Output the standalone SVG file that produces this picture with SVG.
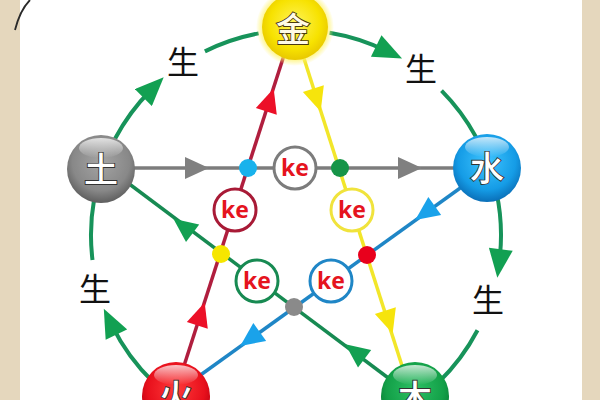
<svg xmlns="http://www.w3.org/2000/svg" xmlns:xlink="http://www.w3.org/1999/xlink" width="600" height="400" viewBox="0 0 600 400">
<style>
.arc{fill:none;stroke:#17935a;stroke-width:4}
.ln{fill:none;stroke-width:3.5}
.ke{fill:#fff;stroke-width:3}
.ket{font-family:"Open Sans","Liberation Sans",sans-serif;font-weight:700;font-size:23px;fill:#e5141e;text-anchor:middle}
.sheng{font-family:"Noto Sans CJK SC","Noto Sans CJK JP",sans-serif;font-size:32px;fill:#111;text-anchor:middle}
.glyph{font-family:"Noto Sans CJK SC","Noto Sans CJK JP",sans-serif;font-weight:500;font-size:34px;fill:#fff;stroke:#333;stroke-width:1.8;paint-order:stroke;text-anchor:middle}
</style>
<defs>
<marker id="ga" markerUnits="userSpaceOnUse" markerWidth="30" markerHeight="24" viewBox="0 0 24 20" refX="9" refY="10" orient="auto">
<path d="M0,0 L24,10 L0,20 z" fill="#12a052"/>
</marker>
<path id="tri" d="M12,0 L-12,-11 L-12,11 z"/>
<radialGradient id="gY" cx="0.5" cy="0.45" r="0.55">
<stop offset="0" stop-color="#fff45a"/><stop offset="0.7" stop-color="#f7e200"/><stop offset="1" stop-color="#e8c800"/>
</radialGradient>
<radialGradient id="glowY" cx="0.5" cy="0.5" r="0.5">
<stop offset="0.8" stop-color="#fff36a" stop-opacity="0.9"/><stop offset="1" stop-color="#fff36a" stop-opacity="0"/>
</radialGradient>
<radialGradient id="gB" cx="0.5" cy="0.4" r="0.6">
<stop offset="0" stop-color="#3ec4ff"/><stop offset="0.7" stop-color="#159ce6"/><stop offset="1" stop-color="#0a6fb8"/>
</radialGradient>
<radialGradient id="gG" cx="0.5" cy="0.4" r="0.6">
<stop offset="0" stop-color="#a4a4a4"/><stop offset="0.7" stop-color="#888"/><stop offset="1" stop-color="#5e5e5e"/>
</radialGradient>
<radialGradient id="gR" cx="0.5" cy="0.4" r="0.6">
<stop offset="0" stop-color="#ff3a3a"/><stop offset="0.7" stop-color="#e8101c"/><stop offset="1" stop-color="#b80010"/>
</radialGradient>
<radialGradient id="gW" cx="0.5" cy="0.4" r="0.6">
<stop offset="0" stop-color="#2cc064"/><stop offset="0.7" stop-color="#13a048"/><stop offset="1" stop-color="#0a7a36"/>
</radialGradient>
<linearGradient id="hl" x1="0" y1="0" x2="0" y2="1">
<stop offset="0" stop-color="#fff" stop-opacity="0.75"/><stop offset="1" stop-color="#fff" stop-opacity="0"/>
</linearGradient>
</defs>

<rect x="0" y="0" width="600" height="400" fill="#ffffff"/>
<rect x="0" y="0" width="20" height="400" fill="#e5d7bd"/>
<rect x="582" y="0" width="18" height="400" fill="#e5d7bd"/>
<path d="M15,30 Q20,10 30,0" fill="none" stroke="#2a2a2a" stroke-width="1.8"/>

<g id="connectors">
<path class="arc" d="M115,138.8 A205 205 0 0 1 151,90" marker-end="url(#ga)"/>
<path class="arc" d="M204.9,51.4 A205 205 0 0 1 258.6,33.4"/>
<path class="arc" d="M329.5,32.7 A205 205 0 0 1 385.9,50.7" marker-end="url(#ga)"/>
<path class="arc" d="M441.5,90.6 A205 205 0 0 1 475.8,136.6"/>
<path class="arc" d="M496.5,192.4 A205 205 0 0 1 499.5,260" marker-end="url(#ga)"/>
<path class="arc" d="M477.5,330.3 A205 205 0 0 1 438.4,382.5"/>
<path class="arc" d="M153.6,382.5 A205 205 0 0 1 111.7,324.9" marker-end="url(#ga)"/>
<path class="arc" d="M92.5,260 A205 205 0 0 1 94.1,199.4"/>

<line class="ln" x1="120" y1="168" x2="470" y2="168" stroke="#7c7c7c"/>
<line class="ln" x1="182" y1="372" x2="287" y2="46" stroke="#b01e3e"/>
<line class="ln" x1="300" y1="46" x2="404" y2="372" stroke="#f2e62a"/>
<line class="ln" x1="470" y1="181" x2="195" y2="379" stroke="#1f86c6"/>
<line class="ln" x1="395" y1="383" x2="120" y2="177" stroke="#178a52"/>

<use xlink:href="#tri" href="#tri" fill="#808080" transform="translate(197,168)"/>
<use xlink:href="#tri" href="#tri" fill="#808080" transform="translate(410,168)"/>
<use xlink:href="#tri" href="#tri" fill="#ec1028" transform="translate(270,100) rotate(-72.1)"/>
<use xlink:href="#tri" href="#tri" fill="#ec1028" transform="translate(201,314) rotate(-72.1)"/>
<use xlink:href="#tri" href="#tri" fill="#f6e40c" transform="translate(317,100) rotate(72.3)"/>
<use xlink:href="#tri" href="#tri" fill="#f6e40c" transform="translate(389,322) rotate(72.3)"/>
<use xlink:href="#tri" href="#tri" fill="#1aa2ea" transform="translate(425,213) rotate(144.3)"/>
<use xlink:href="#tri" href="#tri" fill="#1aa2ea" transform="translate(250,339) rotate(144.3)"/>
<use xlink:href="#tri" href="#tri" fill="#12a052" transform="translate(183,226) rotate(216.8)"/>
<use xlink:href="#tri" href="#tri" fill="#12a052" transform="translate(355,351.5) rotate(216.8)"/>

<circle cx="248" cy="168" r="9" fill="#19b2ec"/>
<circle cx="340" cy="168" r="9" fill="#169448"/>
<circle cx="221" cy="254" r="9" fill="#f6e600"/>
<circle cx="367" cy="255" r="9" fill="#e8001c"/>
<circle cx="294" cy="307" r="9" fill="#8a8a8a"/>
</g>

<g id="ke-labels">
<g id="ke-gray"><circle class="ke" cx="295" cy="168" r="21" stroke="#7c7c7c"/><text class="ket" x="295" y="176">ke</text></g>
<g id="ke-red"><circle class="ke" cx="235" cy="210" r="21" stroke="#a81a36"/><text class="ket" x="235" y="218">ke</text></g>
<g id="ke-yellow"><circle class="ke" cx="352" cy="210" r="21" stroke="#f0e33c"/><text class="ket" x="352" y="218">ke</text></g>
<g id="ke-green"><circle class="ke" cx="257" cy="281" r="21" stroke="#178a52"/><text class="ket" x="257" y="289">ke</text></g>
<g id="ke-blue"><circle class="ke" cx="331" cy="281" r="21" stroke="#1f86c6"/><text class="ket" x="331" y="289">ke</text></g>
</g>

<g id="sheng-labels">
<text class="sheng" x="183" y="74">生</text>
<text class="sheng" x="421" y="81">生</text>
<text class="sheng" x="488" y="312">生</text>
<text class="sheng" x="95" y="301">生</text>
</g>

<g id="node-metal">
<circle cx="295" cy="27" r="39" fill="url(#glowY)"/>
<circle cx="295" cy="27" r="33" fill="url(#gY)"/>
<text class="glyph" x="293" y="42" style="fill:#fffbe6;stroke:#4a3a10">金</text>
</g>
<g id="node-water">
<circle cx="487" cy="168" r="34" fill="url(#gB)"/>
<ellipse cx="487" cy="147" rx="22" ry="10" fill="url(#hl)"/>
<text class="glyph" x="487" y="181">水</text>
</g>
<g id="node-earth">
<circle cx="101" cy="169" r="34" fill="url(#gG)"/>
<ellipse cx="101" cy="148" rx="22" ry="10" fill="url(#hl)"/>
<text class="glyph" x="101" y="182">土</text>
</g>
<g id="node-fire">
<circle cx="176" cy="396" r="34" fill="url(#gR)"/>
<ellipse cx="176" cy="375" rx="22" ry="10" fill="url(#hl)"/>
<text class="glyph" x="176" y="409">火</text>
</g>
<g id="node-wood">
<circle cx="415" cy="396" r="34" fill="url(#gW)"/>
<ellipse cx="415" cy="375" rx="22" ry="10" fill="url(#hl)"/>
<text class="glyph" x="415" y="410">木</text>
</g>
</svg>
